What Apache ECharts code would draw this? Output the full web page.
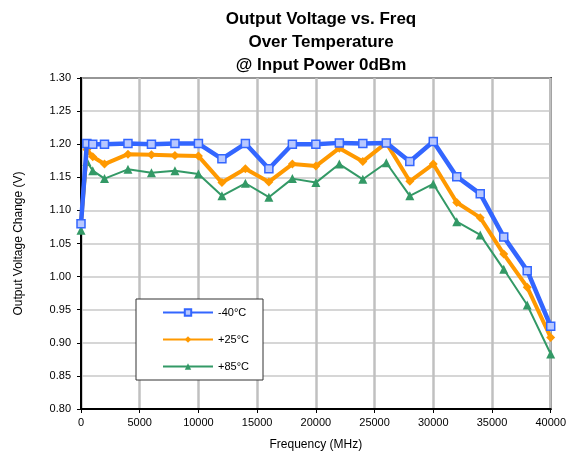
<!DOCTYPE html>
<html>
<head>
<meta charset="utf-8">
<script src="https://cdn.jsdelivr.net/npm/echarts@6/dist/echarts.min.js"></script>
<style>
  html, body { margin: 0; padding: 0; background: #fff; }
  #chart { width: 569px; height: 465px; }
</style>
</head>
<body>
<div id="chart"></div>
<script>
// frequency points (MHz)
const freqs = [0, 500, 1000, 2000, 4000, 6000, 8000, 10000, 12000, 14000, 16000, 18000,
  20000, 22000, 24000, 26000, 28000, 30000, 32000, 34000, 36000, 38000, 40000]

const minus40 = [1.080, 1.201, 1.200, 1.200, 1.201, 1.200, 1.201, 1.201, 1.178, 1.201, 1.163, 1.200,
  1.200, 1.202, 1.201, 1.202, 1.174, 1.204, 1.151, 1.125, 1.060, 1.009, 0.925]
const plus25 = [1.081, 1.192, 1.181, 1.170, 1.185, 1.184, 1.183, 1.182, 1.142, 1.163, 1.143, 1.170,
  1.167, 1.194, 1.174, 1.202, 1.144, 1.170, 1.112, 1.089, 1.034, 0.984, 0.908]
const plus85 = [1.070, 1.174, 1.160, 1.148, 1.162, 1.157, 1.160, 1.155, 1.122, 1.141, 1.120, 1.148,
  1.142, 1.170, 1.147, 1.172, 1.122, 1.140, 1.083, 1.063, 1.011, 0.957, 0.883]

const seriesNames = ['-40\u00b0C', '+25\u00b0C', '+85\u00b0C']

const pair = (vals) => freqs.map((f, i) => [f, vals[i]])

const chart = echarts.init(document.getElementById('chart'))

const font = 'Liberation Sans, Arial, sans-serif'

const option = {
  animation: false,
  backgroundColor: '#fff',
  title: {
    text: 'Output Voltage vs. Freq\nOver Temperature\n@ Input Power 0dBm',
    left: 316,
    top: 3,
    textAlign: 'center',
    textStyle: { fontFamily: font, fontSize: 17, fontWeight: 'bold', color: '#000', lineHeight: 23 }
  },
  legend: {
    orient: 'vertical',
    left: 136,
    top: 299,
    padding: [8, 14, 8, 26],
    itemGap: 16,
    itemWidth: 50,
    itemHeight: 8,
    borderColor: '#333',
    borderWidth: 1,
    backgroundColor: '#fff',
    data: seriesNames,
    textStyle: { fontFamily: font, fontSize: 11, color: '#000' }
  },
  grid: {
    left: 81,
    right: 17,
    top: 78,
    bottom: 56,
    show: true,
    borderColor: '#000',
    borderWidth: 2
  },
  xAxis: {
    type: 'value',
    min: 0,
    max: 40000,
    interval: 5000,
    name: 'Frequency (MHz)',
    nameLocation: 'middle',
    nameGap: 30,
    nameTextStyle: { fontFamily: font, fontSize: 12, color: '#000' },
    axisLine: { lineStyle: { color: '#000', width: 2 } },
    axisTick: { show: true, length: 4, lineStyle: { color: '#000' } },
    axisLabel: { fontFamily: font, fontSize: 11, color: '#000', margin: 8, formatter: (v) => String(v) },
    splitLine: { show: true, lineStyle: { color: '#c0c0c0', width: 2.5 } }
  },
  yAxis: {
    type: 'value',
    min: 0.8,
    max: 1.3,
    interval: 0.05,
    name: 'Output Voltage Change (V)',
    nameLocation: 'middle',
    nameGap: 56,
    nameTextStyle: { fontFamily: font, fontSize: 12, color: '#000' },
    axisLine: { lineStyle: { color: '#000', width: 2 } },
    axisTick: { show: true, length: 4, lineStyle: { color: '#000' } },
    axisLabel: {
      fontFamily: font, fontSize: 11, color: '#000', margin: 10,
      formatter: (v) => v.toFixed(2)
    },
    splitLine: { show: true, lineStyle: { color: '#c8c8c8', width: 1.5 } }
  },
  series: [
    {
      name: seriesNames[0],
      type: 'line',
      data: pair(minus40),
      color: '#3366ff',
      lineStyle: { width: 4.5, color: '#3366ff' },
      symbol: 'rect',
      symbolSize: 8,
      itemStyle: { color: '#b8c8ff', borderColor: '#3366ff', borderWidth: 1.5 },
      z: 4
    },
    {
      name: seriesNames[1],
      type: 'line',
      data: pair(plus25),
      color: '#ff9900',
      lineStyle: { width: 4, color: '#ff9900' },
      symbol: 'diamond',
      symbolSize: 9,
      itemStyle: { color: '#ff9900' },
      z: 3
    },
    {
      name: seriesNames[2],
      type: 'line',
      data: pair(plus85),
      color: '#339966',
      lineStyle: { width: 2, color: '#339966' },
      symbol: 'triangle',
      symbolSize: 9,
      itemStyle: { color: '#339966' },
      z: 2
    }
  ]
}

chart.setOption(option)
</script>
</body>
</html>
